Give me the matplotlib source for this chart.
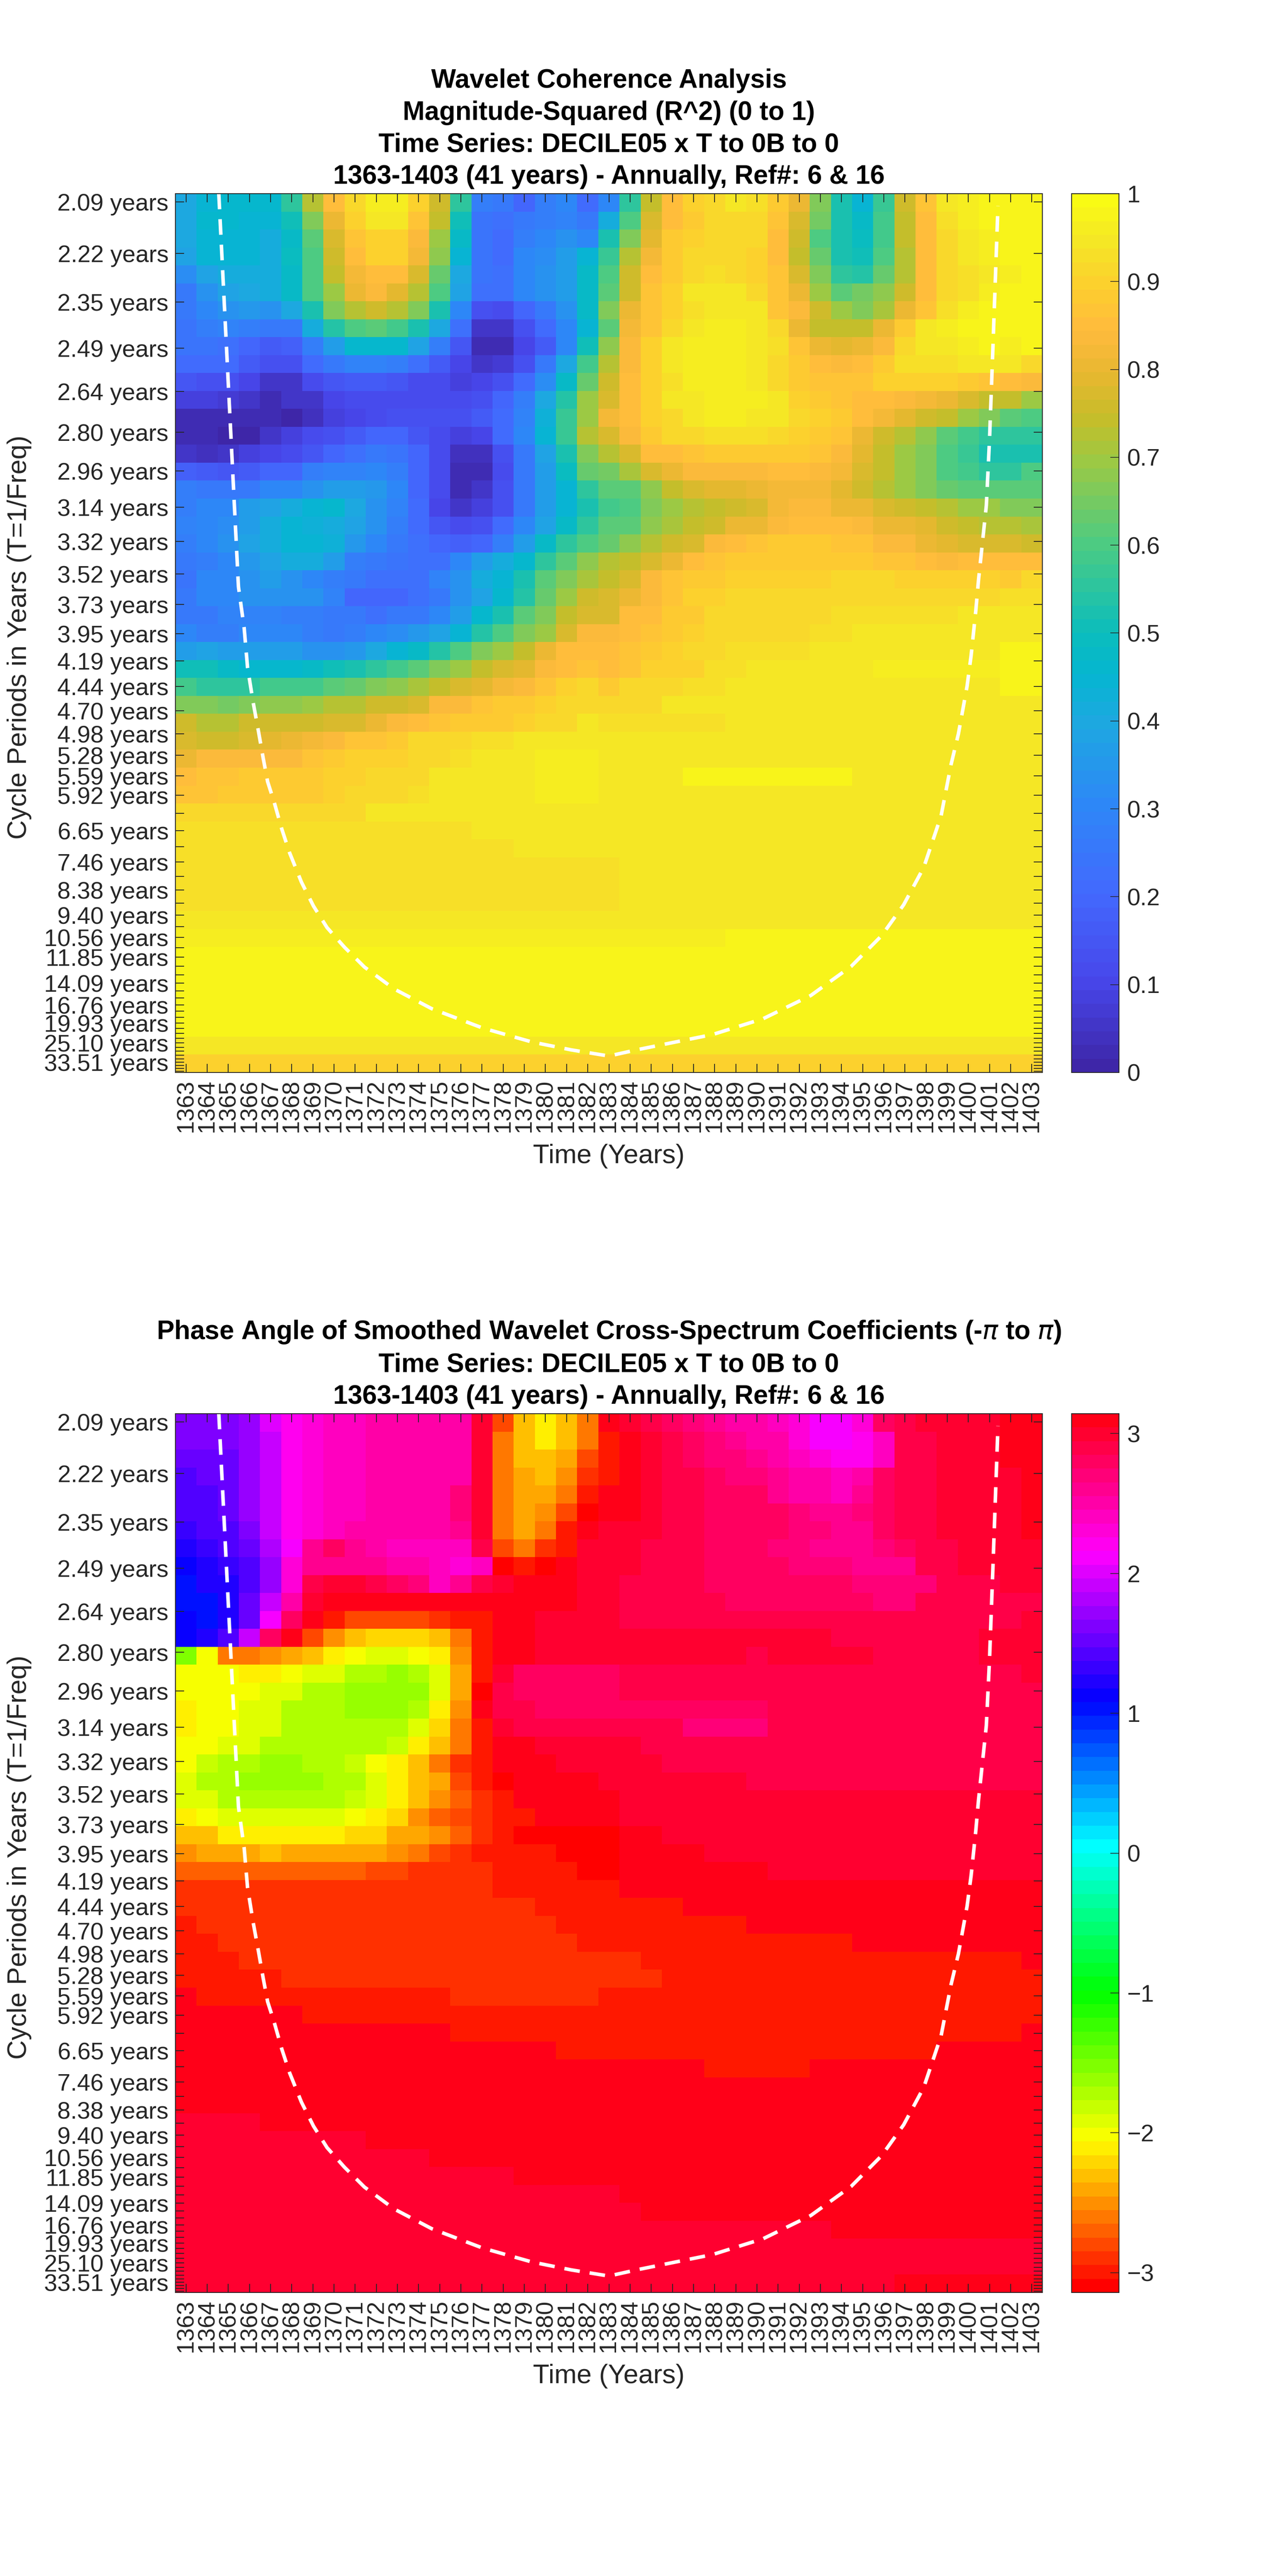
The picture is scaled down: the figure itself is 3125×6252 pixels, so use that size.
import numpy as np
import matplotlib
matplotlib.use('Agg')
import matplotlib.pyplot as plt
from matplotlib.colors import LinearSegmentedColormap

plt.rcParams['font.family'] = ['Liberation Sans', 'DejaVu Sans']

years = list(range(1363, 1404))

# period ticks, one per 1/12 octave; only some of them carry a label
base_period = 2.0894
n_ticks = 52
period_labels = {0: '2.09', 1: '2.22', 2: '2.35', 3: '2.49', 4: '2.64', 5: '2.80', 6: '2.96', 7: '3.14',
                 8: '3.32', 9: '3.52', 10: '3.73', 11: '3.95', 12: '4.19', 13: '4.44', 14: '4.70', 15: '4.98',
                 16: '5.28', 17: '5.59', 18: '5.92', 20: '6.65', 22: '7.46', 24: '8.38', 26: '9.40',
                 28: '10.56', 30: '11.85', 33: '14.09', 36: '16.76', 39: '19.93', 43: '25.10', 48: '33.51'}
freq_top = 0.4830
freq_bottom = 0.0245

# cone of influence
coi_years = [1364.55, 1365.48, 1365.75, 1365.91, 1366.18, 1366.42, 1366.65, 1366.86, 1367.16, 1367.53, 1367.9,
             1368.46, 1369.03, 1369.67, 1370.5, 1371.44, 1372.84, 1374.62, 1377.03, 1379.37, 1381.22, 1383.0,
             1384.3, 1387.9, 1390.3, 1392.55, 1394.46, 1395.9, 1396.94, 1397.89, 1398.71, 1399.18, 1399.53,
             1399.94, 1400.13, 1400.35, 1400.48, 1400.85, 1401.0, 1401.16, 1401.4]
coi_freq = [0.4830, 0.2779, 0.2564, 0.2358, 0.2173, 0.2029, 0.1885, 0.1762, 0.1659, 0.1515, 0.1391,
            0.1238, 0.1113, 0.1001, 0.0898, 0.0795, 0.0681, 0.0578, 0.0477, 0.0404, 0.0363, 0.0331,
            0.0363, 0.0443, 0.0526, 0.0647, 0.0799, 0.0959, 0.1120, 0.1315, 0.1584, 0.1851, 0.2012,
            0.2261, 0.2420, 0.2652, 0.2814, 0.3203, 0.3545, 0.4024, 0.4766]

# R^2 x 100, rows top to bottom, columns 1363-1383
coh_left = [
    [40,44,46,46,46,55,73,85,92,96,96,90,76,55,27,25,20,27,30,21,30],
    [40,46,46,45,44,51,66,80,90,94,94,87,74,50,24,22,26,28,29,26,42],
    [40,44,45,45,42,48,62,78,86,90,90,84,70,47,24,21,27,30,34,30,52],
    [38,44,45,45,42,49,60,75,85,90,90,82,68,45,24,21,30,32,36,44,57],
    [32,38,42,42,42,47,60,74,82,85,85,78,63,40,24,22,30,33,36,47,60],
    [26,33,38,40,41,47,60,70,80,83,79,72,60,39,22,22,31,33,36,47,62],
    [25,30,33,35,34,40,53,66,73,75,72,66,53,30,13,12,20,25,33,47,66],
    [24,28,29,27,26,26,42,54,60,62,58,52,40,23,6,6,13,21,30,45,62],
    [24,24,22,20,17,18,27,37,46,46,46,38,27,15,3,3,10,17,30,50,68],
    [21,21,21,16,13,13,21,25,29,29,27,23,17,10,5,7,14,25,40,58,72],
    [15,13,13,10,6,6,12,15,16,16,15,12,11,9,10,13,21,32,47,64,76],
    [9,9,7,6,3,5,6,10,12,12,12,12,12,11,13,19,28,40,54,69,78],
    [2,2,2,2,2,1,4,8,10,12,13,14,14,14,16,21,29,43,57,70,82],
    [2,2,1,1,5,8,11,14,17,19,19,15,12,8,10,21,31,44,57,72,78],
    [5,4,5,9,10,12,15,19,23,25,24,19,12,4,4,13,26,39,53,67,72],
    [18,16,15,16,19,20,27,29,29,30,27,20,12,2,3,12,25,36,49,64,65],
    [27,25,25,26,31,31,33,36,36,35,30,20,11,2,5,13,25,37,44,55,61],
    [28,30,30,36,39,42,44,46,40,34,29,21,10,5,8,14,26,36,45,53,59],
    [29,31,32,37,41,45,43,42,38,34,28,21,15,12,14,21,30,38,47,56,61],
    [28,30,33,38,41,44,44,43,35,31,26,22,19,18,20,27,36,47,56,60,64],
    [25,28,30,35,39,42,42,37,27,25,24,23,23,30,36,42,46,56,62,68,73],
    [24,30,31,33,36,33,30,27,25,23,23,23,29,33,42,45,53,62,67,71,74],
    [26,30,30,33,33,33,33,29,20,20,20,22,26,33,38,46,54,63,70,75,77],
    [26,26,29,29,29,27,27,25,25,22,25,26,30,36,46,53,61,67,74,78,78],
    [31,28,28,30,30,30,27,26,27,30,32,35,38,44,54,60,66,70,78,83,84],
    [37,38,37,36,36,36,33,33,35,40,44,48,54,60,66,70,74,80,85,85,85],
    [50,50,47,46,46,46,47,50,52,55,58,62,67,70,74,77,79,83,85,87,85],
    [58,56,56,56,58,58,58,61,63,67,68,71,74,77,79,82,83,87,90,92,89],
    [67,67,65,67,68,68,70,72,73,75,76,78,83,84,86,88,89,90,91,92,91],
    [75,72,72,75,75,75,76,77,78,81,83,85,86,88,89,89,90,91,92,95,93],
    [78,76,76,78,79,80,82,84,86,86,89,91,92,92,93,93,94,94,94,95,95],
    [80,83,83,83,84,84,86,88,90,90,90,91,92,93,95,95,95,96,96,96,95],
    [85,87,87,88,89,89,89,90,90,91,92,92,94,95,95,95,95,96,96,96,95],
    [87,87,88,89,89,89,89,90,91,91,92,93,94,94,95,95,95,96,96,96,95],
    [92]*9 + [94]*5 + [95]*7,
    [93]*14 + [95]*7,
    [93]*16 + [94]*5,
    [93]*21,
    [93]*21,
    [93]*21,
    [95]*21,
    [96]*21,
    [97]*21,
    [98]*21,
    [98]*21,
    [98]*21,
    [97]*10 + [98]*11,
    [95]*21,
    [90]*21,
]

# columns 1384-1403
coh_right = [
    [56,74,85,90,91,94,93,89,80,66,52,44,57,75,86,94,96,97,98,98],
    [60,78,85,88,91,92,91,87,78,65,53,47,58,74,85,93,96,97,97,98],
    [66,79,88,90,92,92,91,85,75,60,53,49,58,74,85,92,95,96,97,98],
    [72,82,88,92,92,92,90,85,74,63,53,51,60,73,85,92,95,96,97,98],
    [76,85,89,91,93,91,90,87,78,67,56,54,63,73,85,92,93,95,96,97],
    [76,86,90,94,94,94,92,86,80,69,62,65,68,75,85,91,93,96,97,97],
    [80,87,90,93,95,95,94,87,84,75,69,67,71,80,87,93,96,97,98,98],
    [82,86,92,95,96,96,94,91,81,74,74,74,80,89,94,96,97,97,97,98],
    [84,90,94,96,96,96,95,93,87,81,79,80,84,91,94,95,96,97,96,97],
    [84,90,94,96,96,96,95,92,89,85,84,85,89,93,93,93,94,95,95,91],
    [85,90,93,96,96,96,95,92,89,87,87,86,90,90,90,90,89,87,85,83],
    [85,90,94,95,96,96,96,94,90,88,87,85,85,84,82,80,78,74,74,69],
    [85,90,92,94,96,96,94,94,92,90,88,85,82,79,76,74,70,66,62,60],
    [83,89,91,92,93,93,93,91,90,88,86,81,76,72,68,62,58,55,55,55],
    [78,85,85,87,89,89,89,89,89,86,83,79,74,70,66,60,57,52,52,53],
    [71,77,80,83,83,84,84,85,85,84,82,78,74,70,66,60,59,56,56,60],
    [62,68,74,77,79,79,80,82,82,82,79,75,72,70,67,64,62,62,62,62],
    [60,66,70,72,74,75,78,82,83,83,81,80,78,75,74,72,70,69,67,67],
    [62,68,71,74,76,80,81,83,85,85,85,83,81,80,79,76,74,73,73,71],
    [68,73,76,78,83,85,87,89,89,89,87,87,84,83,80,79,78,77,77,76],
    [74,78,81,85,87,88,89,89,89,89,89,89,87,87,85,84,85,85,85,85],
    [78,84,87,89,89,90,90,90,90,90,91,91,91,90,90,90,90,90,89,91],
    [81,83,87,90,90,91,91,91,91,92,92,92,92,92,92,92,92,92,93,93],
    [85,85,89,89,91,91,92,92,92,92,93,93,93,93,93,93,94,94,94,94],
    [85,87,89,90,91,91,92,92,92,93,93,94,94,94,94,94,94,94,95,95],
    [86,88,90,91,91,93,93,93,93,94,94,94,95,95,95,95,95,95,97,97],
    [87,90,90,90,93,93,94,94,94,94,94,95,96,96,96,96,96,96,97,97],
    [91,92,92,93,93,94,94,94,94,94,94,95,95,95,95,95,95,95,97,97],
    [92,92,94,94,94,94,94,94,94,94,95,95,95,95,95,95,95,95,95,95],
    [93]*5 + [95]*15,
    [95]*20,
    [95]*20,
    [95]*3 + [97]*8 + [95]*9,
    [95]*20,
    [95]*18 + [94]*2,
    [95]*12 + [94]*8,
    [94]*20,
    [94]*20,
    [94]*20,
    [94]*20,
    [94]*20,
    [96]*5 + [97]*15,
    [97]*9 + [98]*11,
    [98]*20,
    [98]*20,
    [98]*20,
    [98]*16 + [97]*4,
    [95]*20,
    [90]*20,
]

# phase angle in radians, same layout
phase_left = [
    [1.6,1.6,1.6,1.75,2.05,2.2,2.35,2.45,2.45,2.5,2.5,2.5,2.5,2.5,3.0,-2.77,-2.33,-2.15,-2.28,-2.65,3.14],
    [1.62,1.62,1.62,1.72,1.95,2.2,2.35,2.45,2.45,2.5,2.5,2.5,2.5,2.5,3.0,-2.65,-2.3,-2.13,-2.28,-2.65,-3.02],
    [1.5,1.55,1.55,1.72,1.95,2.2,2.35,2.45,2.45,2.5,2.5,2.5,2.5,2.5,3.0,-2.65,-2.3,-2.28,-2.36,-2.75,-3.02],
    [1.4,1.5,1.5,1.72,1.95,2.2,2.35,2.45,2.45,2.5,2.5,2.5,2.5,2.5,3.03,-2.65,-2.36,-2.28,-2.53,-2.85,-3.02],
    [1.38,1.47,1.48,1.72,1.95,2.2,2.35,2.45,2.45,2.5,2.5,2.5,2.5,2.7,3.03,-2.65,-2.4,-2.45,-2.65,-2.98,3.14],
    [1.38,1.47,1.48,1.72,1.95,2.2,2.35,2.45,2.45,2.5,2.5,2.5,2.5,2.72,3.03,-2.65,-2.45,-2.5,-2.75,-3.05,3.1],
    [1.33,1.42,1.45,1.58,1.92,2.2,2.35,2.45,2.5,2.55,2.55,2.5,2.5,2.6,2.95,-2.65,-2.45,-2.65,-2.95,3.14,3.0],
    [1.2,1.3,1.4,1.5,1.78,2.15,2.65,2.75,2.6,2.55,2.45,2.45,2.45,2.4,2.85,-2.8,-2.65,-2.9,-3.0,3.0,2.95],
    [1.15,1.27,1.33,1.45,1.72,2.3,2.6,2.65,2.65,2.6,2.55,2.5,2.4,2.3,2.45,-3.14,-2.95,-3.14,3.05,2.95,2.95],
    [1.05,1.2,1.25,1.42,1.72,2.35,2.9,2.95,2.95,2.85,2.8,2.7,2.45,2.6,2.85,3.0,3.05,3.05,3.05,2.95,2.95],
    [1.05,1.05,1.2,1.52,1.95,2.5,2.95,3.12,3.12,3.12,3.05,3.05,3.05,3.05,3.12,3.12,3.12,3.12,3.05,3.0,3.0],
    [1.1,1.05,1.2,1.55,2.1,2.75,3.14,-2.98,-2.8,-2.8,-2.8,-2.8,-2.9,-2.95,-3.02,3.14,3.05,3.0,3.0,3.0,3.0],
    [1.08,1.2,1.4,1.95,2.75,3.14,-2.75,-2.5,-2.35,-2.25,-2.25,-2.25,-2.35,-2.65,-2.95,3.14,3.1,3.0,3.0,3.0,2.98],
    [-1.55,-2.0,-2.65,-2.65,-2.55,-2.36,-2.28,-2.12,-2.05,-1.93,-1.93,-1.98,-2.12,-2.5,-2.98,3.05,3.05,3.0,3.0,3.0,3.0],
    [-1.98,-2.02,-2.02,-2.12,-2.12,-1.98,-1.88,-1.88,-1.76,-1.76,-1.62,-1.7,-1.88,-2.38,-2.98,3.0,2.8,2.8,2.8,2.8,2.8],
    [-2.0,-2.0,-2.0,-2.0,-1.9,-1.9,-1.76,-1.76,-1.65,-1.65,-1.65,-1.65,-1.88,-2.38,-3.05,2.9,2.75,2.75,2.75,2.75,2.8],
    [-2.1,-2.0,-2.0,-1.88,-1.88,-1.76,-1.76,-1.76,-1.66,-1.66,-1.66,-1.76,-2.12,-2.5,3.14,2.9,2.85,2.75,2.75,2.75,2.8],
    [-2.1,-2.0,-2.0,-1.88,-1.88,-1.76,-1.76,-1.76,-1.76,-1.76,-1.76,-1.95,-2.2,-2.65,-3.02,2.95,2.85,2.85,2.85,2.85,2.85],
    [-1.98,-1.98,-1.88,-1.88,-1.76,-1.76,-1.76,-1.76,-1.76,-1.76,-1.85,-2.15,-2.35,-2.65,-2.95,3.14,3.05,3.0,2.95,2.95,2.95],
    [-1.98,-1.85,-1.76,-1.72,-1.65,-1.65,-1.72,-1.72,-1.85,-1.98,-2.1,-2.3,-2.65,-2.85,-3.02,3.14,3.05,3.05,3.0,3.0,3.0],
    [-1.88,-1.76,-1.76,-1.65,-1.65,-1.65,-1.65,-1.76,-1.76,-1.88,-2.14,-2.28,-2.45,-2.75,-2.95,-3.05,3.14,3.14,3.14,3.08,3.03],
    [-1.88,-1.88,-1.76,-1.76,-1.76,-1.76,-1.76,-1.76,-1.82,-1.93,-2.12,-2.28,-2.5,-2.7,-2.9,-3.0,3.14,3.14,3.14,3.08,3.1],
    [-2.14,-2.0,-1.88,-1.88,-1.88,-1.88,-1.88,-1.88,-2.0,-2.15,-2.25,-2.5,-2.7,-2.8,-2.92,-3.0,-3.02,3.14,3.14,3.14,3.14],
    [-2.26,-2.26,-2.12,-2.12,-2.12,-2.12,-2.12,-2.12,-2.2,-2.2,-2.36,-2.45,-2.55,-2.7,-2.85,-2.95,-3.05,-3.05,-3.05,-3.14,-3.14],
    [-2.5,-2.36,-2.36,-2.36,-2.26,-2.36,-2.36,-2.36,-2.42,-2.42,-2.55,-2.65,-2.8,-2.9,-2.98,-3.02,-3.02,-3.02,-3.14,-3.14,-3.14],
    [-2.68]*9 + [-2.75,-2.75,-2.85,-2.85,-2.92,-2.92,-3.02,-3.02,-3.02,-3.02,-3.14,-3.14],
    [-2.85]*12 + [-2.93]*3 + [-3.02]*6,
    [-2.93]*5 + [-2.85]*5 + [-2.93]*7 + [-3.02]*4,
    [-3.02] + [-2.93]*17 + [-3.02]*3,
    [-3.02]*2 + [-2.93]*17 + [-3.02]*2,
    [-3.02]*3 + [-2.93]*18,
    [-3.02]*5 + [-2.93]*16,
    [3.14] + [-3.02]*12 + [-2.93]*7 + [-3.02],
    [3.14]*6 + [-3.02]*15,
    [3.14]*13 + [-3.02]*8,
    [3.05]*4 + [3.14]*14 + [-3.02]*3,
    [3.05]*7 + [3.14]*14,
    [3.05]*10 + [3.14]*11,
    [3.05]*13 + [3.14]*8,
    [2.95]*4 + [3.05]*15 + [3.14]*2,
    [2.95]*9 + [3.05]*12,
    [2.95]*12 + [3.05]*9,
    [2.95]*16 + [3.05]*5,
    [2.95]*21,
    [2.95]*21,
    [2.95]*21,
    [2.95]*21,
    [2.95]*21,
    [2.95]*21,
]

phase_right = [
    [3.0,2.9,2.8,2.7,2.65,2.55,2.5,2.45,2.3,2.1,2.09,2.3,2.8,2.9,2.95,3.0,3.02,3.02,3.05,3.05],
    [3.05,2.95,2.85,2.75,2.7,2.6,2.5,2.5,2.35,2.1,2.09,2.25,2.45,2.85,2.93,2.95,3.0,3.0,3.05,3.05],
    [3.05,2.95,2.85,2.75,2.7,2.7,2.6,2.5,2.45,2.35,2.22,2.25,2.45,2.85,2.93,2.95,3.0,3.0,3.05,3.05],
    [3.05,2.95,2.85,2.85,2.8,2.7,2.7,2.6,2.5,2.5,2.45,2.55,2.8,2.85,2.93,2.95,3.0,3.0,3.0,3.05],
    [3.05,2.95,2.9,2.85,2.8,2.75,2.75,2.65,2.55,2.5,2.45,2.6,2.8,2.85,2.93,2.95,3.0,3.0,3.0,3.05],
    [3.05,2.95,2.9,2.85,2.8,2.75,2.75,2.75,2.7,2.6,2.6,2.7,2.8,2.85,2.93,2.95,3.0,3.0,3.0,3.05],
    [3.0,2.95,2.9,2.85,2.8,2.75,2.75,2.75,2.7,2.7,2.65,2.65,2.75,2.85,2.88,2.95,2.97,3.0,3.0,3.05],
    [3.0,2.9,2.9,2.85,2.8,2.75,2.75,2.7,2.7,2.65,2.65,2.65,2.7,2.75,2.85,2.9,2.95,2.97,2.95,3.0],
    [3.0,2.9,2.9,2.85,2.8,2.8,2.8,2.8,2.72,2.72,2.68,2.65,2.65,2.65,2.85,2.9,2.95,2.95,2.95,3.0],
    [2.9,2.9,2.9,2.85,2.8,2.8,2.8,2.8,2.8,2.8,2.75,2.7,2.7,2.7,2.7,2.85,2.88,2.9,2.95,3.0],
    [2.9,2.9,2.9,2.85,2.85,2.8,2.8,2.8,2.8,2.8,2.8,2.8,2.7,2.7,2.85,2.85,2.88,2.88,2.9,2.9],
    [2.9,2.9,2.9,2.85,2.85,2.85,2.85,2.85,2.85,2.85,2.85,2.85,2.85,2.85,2.85,2.85,2.88,2.88,2.9,3.0],
    [2.95]*10 + [2.92]*2 + [2.85]*5 + [2.95,2.95,3.0],
    [2.95]*6 + [2.88] + [2.95]*5 + [2.85]*5 + [2.95,2.95,3.0],
    [2.85]*19 + [2.95],
    [2.85]*20,
    [2.75]*7 + [2.85]*13,
    [2.85]*3 + [2.7]*4 + [2.85]*13,
    [2.95] + [2.85]*19,
    [2.95]*2 + [2.9]*6 + [2.85]*12,
    [3.0] + [2.95]*5 + [2.9]*14,
    [3.03]*4 + [3.0]*16,
    [3.03]*6 + [2.95]*14,
    [3.14]*2 + [3.03]*18,
    [3.14]*4 + [3.03]*16,
    [3.14]*7 + [3.03]*13,
    [3.14]*20,
    [-3.02]*3 + [3.14]*17,
    [-3.02]*6 + [3.14]*14,
    [-3.02]*11 + [3.14]*9,
    [-2.93] + [-3.02]*18 + [3.14],
    [-2.93]*2 + [-3.02]*18,
    [-3.02]*20,
    [-3.02]*20,
    [-3.02]*19 + [3.14],
    [-3.02]*15 + [3.14]*5,
    [3.14]*4 + [-3.02]*5 + [3.14]*11,
    [3.14]*20,
    [3.14]*20,
    [3.14]*20,
    [3.14]*20,
    [3.05]*20,
    [3.05]*20,
    [3.05]*20,
    [2.95] + [3.05]*19,
    [2.95]*10 + [3.05]*10,
    [2.95]*20,
    [2.95]*20,
    [2.95]*13 + [3.05]*7,
]

coherence = np.hstack([np.array(coh_left), np.array(coh_right)]) / 100.0
phase = np.hstack([np.array(phase_left), np.array(phase_right)])

parula = LinearSegmentedColormap.from_list('parula_like', [
    (0.00, (0.2422, 0.1504, 0.6603)), (0.10, (0.2803, 0.2782, 0.9221)),
    (0.20, (0.2602, 0.4123, 0.9952)), (0.30, (0.1786, 0.5289, 0.9682)),
    (0.40, (0.1113, 0.6635, 0.8763)), (0.45, (0.0200, 0.7100, 0.8200)),
    (0.50, (0.0433, 0.7411, 0.7394)), (0.60, (0.2906, 0.7973, 0.5188)),
    (0.70, (0.6162, 0.7876, 0.2626)), (0.75, (0.7800, 0.7400, 0.1600)),
    (0.80, (0.9100, 0.7200, 0.1900)), (0.85, (1.0000, 0.7300, 0.2400)),
    (0.90, (0.9900, 0.8100, 0.1800)), (0.95, (0.9600, 0.9000, 0.1500)),
    (1.00, (0.9760, 0.9840, 0.0800))], N=64)
hsv64 = plt.get_cmap('hsv', 64)

W, H = 3125, 6252
dark = '#262626'
tick_size = 41.6


def panel(top, data, title, cmap, vmin, vmax, cticks, clabels):
    bottom = top + 2133
    ax = fig.add_axes([426 / W, 1 - bottom / H, 2105 / W, 2133 / H])
    x_edges = np.arange(len(years) + 1) + years[0] - 0.5
    y_edges = np.linspace(freq_top, freq_bottom, data.shape[0] + 1)
    mesh = ax.pcolormesh(x_edges, y_edges, data, cmap=cmap, vmin=vmin, vmax=vmax)
    ax.set_xlim(x_edges[0], x_edges[-1])
    ax.set_ylim(freq_bottom, freq_top)
    ax.plot(coi_years, coi_freq, color='white', lw=6.2, dashes=(4.4, 2.8))

    ax.set_xticks(years)
    ax.set_xticklabels(years, rotation=90, fontsize=tick_size, color=dark)
    freqs = [1.0 / (base_period * 2 ** (k / 12)) for k in range(n_ticks)]
    ax.set_yticks(freqs)
    ax.set_yticklabels([period_labels[k] + ' years' if k in period_labels else '' for k in range(n_ticks)],
                       fontsize=tick_size, color=dark)
    ax.tick_params(axis='both', direction='in', length=15, width=1.5, color=dark,
                   top=True, right=True, pad=12)
    for s in ax.spines.values():
        s.set_linewidth(1.5)
        s.set_color(dark)
    ax.set_xlabel('Time (Years)', fontsize=47, color=dark)
    ax.xaxis.set_label_coords(0.5, -0.095)
    ax.xaxis.label.set_verticalalignment('center')
    ax.set_ylabel('Cycle Periods in Years (T=1/Freq)', fontsize=47, color=dark)
    ax.yaxis.set_label_coords(-0.18, 0.495)
    ax.yaxis.label.set_verticalalignment('center')
    ax.set_title(title, fontsize=45.9, fontweight='bold', color='black', pad=17, linespacing=1.38)

    cax = fig.add_axes([2602 / W, 1 - bottom / H, 115 / W, 2133 / H])
    cb = fig.colorbar(mesh, cax=cax, ticks=cticks)
    cb.ax.set_yticklabels(clabels)
    cb.ax.tick_params(direction='in', length=15, width=1.2, color=dark, labelsize=tick_size,
                      labelcolor=dark, pad=14)
    cb.outline.set_linewidth(1.5)
    cb.outline.set_edgecolor(dark)
    return ax


fig = plt.figure(figsize=(W / 100, H / 100), dpi=100, facecolor='white')

panel(470, coherence,
      'Wavelet Coherence Analysis\nMagnitude-Squared (R^2) (0 to 1)\n'
      'Time Series: DECILE05 x T to 0B to 0\n1363-1403 (41 years) - Annually, Ref#: 6 & 16',
      parula, 0, 1, [0, 0.1, 0.2, 0.3, 0.4, 0.5, 0.6, 0.7, 0.8, 0.9, 1],
      ['0', '0.1', '0.2', '0.3', '0.4', '0.5', '0.6', '0.7', '0.8', '0.9', '1'])
panel(3431, phase,
      'Phase Angle of Smoothed Wavelet Cross-Spectrum Coefficients (-$\\pi$ to $\\pi$)\n'
      'Time Series: DECILE05 x T to 0B to 0\n1363-1403 (41 years) - Annually, Ref#: 6 & 16',
      hsv64, -np.pi, np.pi, [-3, -2, -1, 0, 1, 2, 3],
      ['\u22123', '\u22122', '\u22121', '0', '1', '2', '3'])

fig.savefig('out.png', dpi=100)
